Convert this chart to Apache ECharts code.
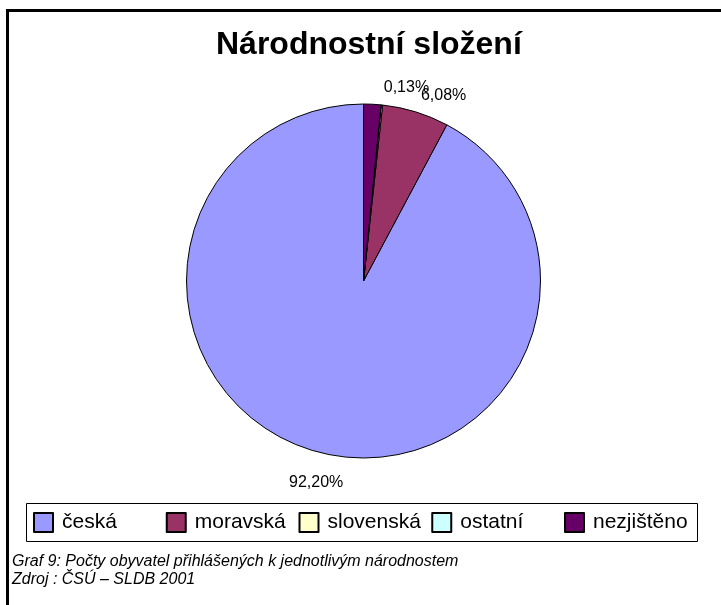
<!DOCTYPE html>
<html>
<head>
<meta charset="utf-8">
<script src="https://cdn.jsdelivr.net/npm/echarts@6/dist/echarts.min.js"></script>
<style>
  html, body { margin: 0; padding: 0; background: #fff; }
  #chart { width: 721px; height: 605px; }
</style>
</head>
<body>
<div id="chart"></div>
<script>
// národnosti a jejich podíl v %
const categories = ['česká', 'moravská', 'slovenská', 'ostatní', 'nezjištěno'];
const shares = [92.20, 6.08, 0.13, 0.00, 1.59];
const colors = ['#9999ff', '#993366', '#ffffcc', '#ccffff', '#660066'];
// popisky jsou v originále jen u prvních tří výsečí
const labelShown = [true, true, true, false, false];

const titleText = 'Národnostní složení';
const noteLines = [
  'Graf 9: Počty obyvatel přihlášených k jednotlivým národnostem',
  'Zdroj : ČSÚ – SLDB 2001'
];

const font = '"Liberation Sans", Arial, sans-serif';

const fmtPct = v => v.toFixed(2).replace('.', ',') + '%';

// legenda v Excelu má stejně široké sloupce -> jedna legenda na sloupec
const legendBox = { x: 26, y: 503, w: 671, h: 38 };
const legendColW = 132.75;

const legends = categories.map((name, i) => ({
  data: [name],
  left: legendBox.x + 7 + i * legendColW,
  top: legendBox.y + 9,
  icon: 'rect',
  itemWidth: 19,
  itemHeight: 19,
  padding: 0,
  selectedMode: false,
  textStyle: {
    fontFamily: font,
    fontSize: 21,
    color: '#000',
    padding: [0, 0, 0, 4]
  }
}));

const chart = echarts.init(document.getElementById('chart'));

const option = {
  backgroundColor: '#fff',
  animation: false,
  title: {
    text: titleText,
    left: 211,
    top: 24,
    textStyle: {
      fontFamily: font,
      fontSize: 32,
      fontWeight: 'bold',
      color: '#000'
    }
  },
  legend: legends,
  graphic: [
    // ořezaný rámeček kolem obrázku (horní a levá hrana)
    {
      type: 'polyline',
      shape: { points: [[7.5, 605], [7.5, 10.5], [721, 10.5]] },
      style: { stroke: '#000', lineWidth: 3, fill: null }
    },
    {
      type: 'rect',
      z: -1,
      shape: { x: legendBox.x + 0.5, y: legendBox.y + 0.5, width: legendBox.w, height: legendBox.h },
      style: { stroke: '#000', lineWidth: 1, fill: '#fff' }
    },
    {
      type: 'text',
      left: 12,
      top: 553,
      style: {
        text: noteLines.join('\n'),
        font: 'italic 16px ' + font,
        lineHeight: 18,
        fill: '#000'
      }
    }
  ],
  series: [
    {
      type: 'pie',
      center: [363.5, 281],
      radius: 177,
      startAngle: 90,
      clockwise: false,
      avoidLabelOverlap: false,
      minAngle: 0,
      data: categories.map((name, i) => ({
        name: name,
        value: shares[i],
        itemStyle: { color: colors[i] },
        label: { show: labelShown[i] }
      })),
      itemStyle: {
        borderColor: '#000',
        borderWidth: 1
      },
      label: {
        position: 'outside',
        formatter: p => fmtPct(p.value),
        fontFamily: font,
        fontSize: 16,
        color: '#000'
      },
      labelLine: {
        show: true,
        length: 18,
        length2: 0,
        lineStyle: { opacity: 0 }
      },
      labelLayout: function (params) {
        const pts = params.labelLinePoints;
        if (!pts) return {};
        const p = pts[1];
        // horní polovina: text vlevo zarovnaný u paprsku, dolní: vycentrovaný pod ním
        if (p[1] < 281) {
          return { x: p[0], y: p[1] + 1, align: 'left', verticalAlign: 'middle' };
        }
        return { x: p[0], y: p[1] + 4, align: 'center', verticalAlign: 'top' };
      },
      emphasis: { disabled: true }
    }
  ]
};

chart.setOption(option);
</script>
</body>
</html>
